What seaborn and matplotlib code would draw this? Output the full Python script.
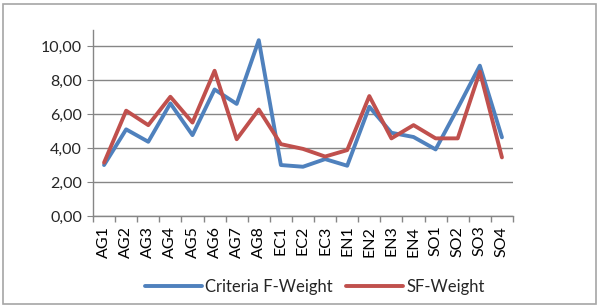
import pandas as pd
import matplotlib
matplotlib.use("Agg")
import matplotlib.pyplot as plt
import seaborn as sns
from matplotlib.ticker import FuncFormatter, FixedLocator
from matplotlib.patches import Rectangle

# === Hardcoded data ===
categories = ["AG1", "AG2", "AG3", "AG4", "AG5", "AG6", "AG7", "AG8",
              "EC1", "EC2", "EC3", "EN1", "EN2", "EN3", "EN4",
              "SO1", "SO2", "SO3", "SO4"]
criteria_f_weight = [3.00, 5.10, 4.37, 6.63, 4.76, 7.45, 6.60, 10.35,
                     3.00, 2.90, 3.35, 2.96, 6.43, 4.90, 4.65,
                     3.92, 6.35, 8.85, 4.63]
sf_weight = [3.14, 6.20, 5.35, 7.02, 5.50, 8.55, 4.52, 6.27,
             4.23, 3.95, 3.50, 3.88, 7.06, 4.57, 5.35,
             4.57, 4.57, 8.50, 3.45]
series_names = ["Criteria F-Weight", "SF-Weight"]

df = pd.DataFrame({
    "Category": categories * 2,
    "Pos": list(range(len(categories))) * 2,
    "Value": criteria_f_weight + sf_weight,
    "Series": [series_names[0]] * len(categories) + [series_names[1]] * len(categories),
})

# === Style ===
sns.set_style("white")
plt.rcParams["font.family"] = ["Lato", "DejaVu Sans"]
palette = {series_names[0]: "#4F81BD", series_names[1]: "#C0504D"}
grid_color = "#868686"

# === Plot ===
fig = plt.figure(figsize=(6.0, 3.07), dpi=100)
ax = fig.add_axes([93 / 600, 1 - 216 / 307, (513 - 93) / 600, (216 - 30) / 307])

sns.lineplot(data=df, x="Pos", y="Value", hue="Series", palette=palette,
             linewidth=2.8, ax=ax, sort=False, legend=True)

n = len(categories)
ax.set_xlim(-0.5, n - 0.5)
ax.set_ylim(0, 10.95)
ax.yaxis.set_major_locator(FixedLocator([0, 2, 4, 6, 8, 10]))
ax.yaxis.set_major_formatter(FuncFormatter(lambda v, p: f"{v:.2f}".replace(".", ",")))
ax.set_xticks(range(n))
ax.set_xticklabels(categories, rotation=90)
ax.set_xticks([i - 0.5 for i in range(n + 1)], minor=True)
ax.tick_params(axis="x", which="major", length=0, pad=7, labelsize=11.5, colors="black")
ax.tick_params(axis="x", which="minor", length=4, color=grid_color, width=1, bottom=True)
ax.tick_params(axis="y", length=4, color=grid_color, labelsize=11.5, left=True, pad=4)
ax.set_xlabel("")
ax.set_ylabel("")

ax.grid(axis="y", color=grid_color, linewidth=1)
ax.set_axisbelow(True)
for side in ["top", "right"]:
    ax.spines[side].set_visible(False)
for side in ["left", "bottom"]:
    ax.spines[side].set_color(grid_color)
    ax.spines[side].set_linewidth(1)

handles, labels = ax.get_legend_handles_labels()
ax.legend(handles, labels, loc="center", bbox_to_anchor=(315 / 600, 1 - 287 / 307),
          bbox_transform=fig.transFigure, ncol=2, frameon=False, fontsize=12,
          handlelength=3.4, handletextpad=0.2, columnspacing=0.8)

# outer chart border
fig.patches.append(Rectangle((3 / 600, 3 / 307), 593 / 600, 300 / 307,
                             transform=fig.transFigure, fill=False,
                             edgecolor="#A6A6A6", linewidth=1.2))

fig.savefig("out.png", dpi=100)
